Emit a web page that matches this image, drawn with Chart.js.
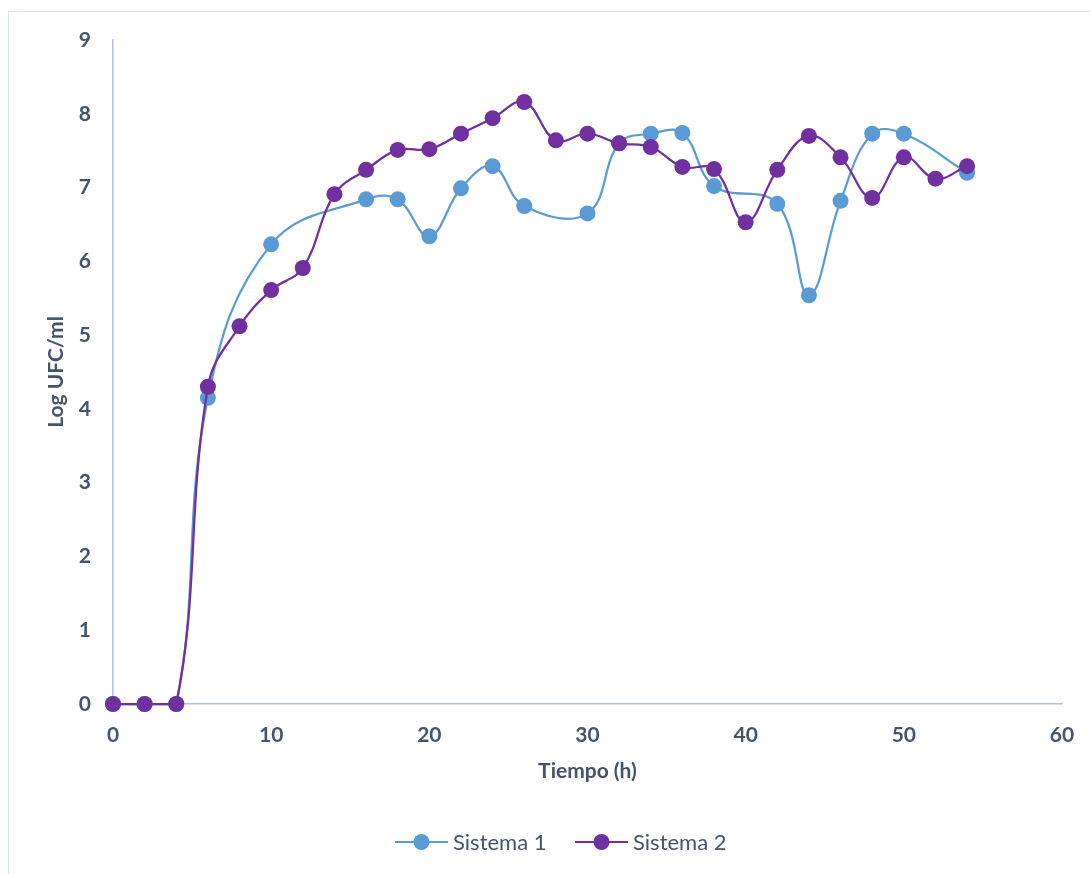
<!DOCTYPE html>
<html>
<head>
<meta charset="utf-8">
<script src="https://cdn.jsdelivr.net/npm/chart.js@4/dist/chart.umd.min.js"></script>
<style>
  body { margin: 0; background: #fff; overflow: hidden; }
  #wrap { position: relative; width: 1090px; height: 874px; }
  #frame { position: absolute; left: 8px; top: 11px; width: 1200px; height: 1000px;
           border-top: 1.5px solid #dde3ea; border-left: 1.5px solid #dde3ea; }
  canvas { position: absolute; left: 0; top: 0; }
</style>
</head>
<body>
<div id="wrap">
  <div id="frame"></div>
  <canvas id="myChart" width="1090" height="874"></canvas>
</div>
<script>
// tiempo (h) y Log UFC/ml
const horas1 = [0, 2, 4, 6, 10, 16, 18, 20, 22, 24, 26, 30, 32, 34, 36, 38, 42, 44, 46, 48, 50, 54];
const sistema1 = [0, 0, 0, 4.15, 6.23, 6.84, 6.84, 6.34, 6.99, 7.29, 6.75, 6.65, 7.60, 7.73, 7.74, 7.02, 6.78, 5.54, 6.82, 7.73, 7.73, 7.20];

const horas2 = [0, 2, 4, 6, 8, 10, 12, 14, 16, 18, 20, 22, 24, 26, 28, 30, 32, 34, 36, 38, 40, 42, 44, 46, 48, 50, 52, 54];
const sistema2 = [0, 0, 0, 4.30, 5.12, 5.61, 5.91, 6.91, 7.24, 7.51, 7.52, 7.73, 7.94, 8.16, 7.64, 7.73, 7.60, 7.55, 7.28, 7.25, 6.53, 7.24, 7.70, 7.41, 6.86, 7.41, 7.12, 7.29];

const nombres = ["Sistema 1", "Sistema 2"];
const colores = ["#5b9bd5", "#7030a0"];
const textColor = "#44546a";
const axisColor = "#b4c2d8";
const fuente = "Lato, 'Open Sans', sans-serif";

function puntos(xs, ys) {
  return xs.map((x, i) => ({ x: x, y: ys[i] }));
}

// leyenda con linea + marcador, como en Excel
const leyenda = {
  id: "leyenda",
  afterDraw(chart) {
    const ctx = chart.ctx;
    const y = 842;
    const items = [{ x: 395 }, { x: 575 }];
    ctx.save();
    ctx.font = "22px " + fuente;
    ctx.textBaseline = "middle";
    items.forEach((it, i) => {
      ctx.strokeStyle = colores[i];
      ctx.lineWidth = 2;
      ctx.beginPath();
      ctx.moveTo(it.x, y);
      ctx.lineTo(it.x + 53, y);
      ctx.stroke();
      ctx.fillStyle = colores[i];
      ctx.beginPath();
      ctx.arc(it.x + 26.5, y, 8, 0, Math.PI * 2);
      ctx.fill();
      ctx.fillStyle = textColor;
      ctx.fillText(nombres[i], it.x + 58, y + 1);
    });
    ctx.restore();
  }
};

const ctx = document.getElementById("myChart").getContext("2d");
const myChart = new Chart(ctx, {
  type: "line",
  data: {
    datasets: [
      {
        label: nombres[0],
        data: puntos(horas1, sistema1),
        borderColor: colores[0],
        backgroundColor: colores[0],
        borderWidth: 2.25,
        pointRadius: 8,
        pointHoverRadius: 8,
        pointBorderWidth: 0,
        tension: 0.4,
        clip: false,
        order: 1,
      },
      {
        label: nombres[1],
        data: puntos(horas2, sistema2),
        borderColor: colores[1],
        backgroundColor: colores[1],
        borderWidth: 2.25,
        pointRadius: 8,
        pointHoverRadius: 8,
        pointBorderWidth: 0,
        tension: 0.4,
        clip: false,
        order: 0,
      },
    ],
  },
  options: {
    responsive: false,
    animation: false,
    layout: { padding: { left: 0, right: 28, top: 40, bottom: 60 } },
    plugins: {
      legend: { display: false },
      tooltip: { enabled: false },
    },
    scales: {
      x: {
        type: "linear",
        min: 0,
        max: 60,
        ticks: {
          stepSize: 10,
          padding: 19,
          color: textColor,
          font: { family: fuente, size: 21, weight: "bold" },
        },
        grid: { display: false, drawTicks: false },
        border: { color: axisColor, width: 1.5 },
        title: {
          display: true,
          text: "Tiempo (h)",
          color: textColor,
          font: { family: fuente, size: 21, weight: "bold" },
          padding: { top: 0, bottom: 30 },
        },
        afterFit: (scale) => {
          scale.height = 110;
          scale.paddingLeft = 0;
          scale.paddingRight = 0;
        },
      },
      y: {
        min: 0,
        max: 9,
        ticks: {
          stepSize: 1,
          padding: 22,
          color: textColor,
          font: { family: fuente, size: 21, weight: "bold" },
        },
        grid: { display: false, drawTicks: false },
        border: { color: axisColor, width: 1.5 },
        title: {
          display: true,
          text: "Log UFC/ml",
          color: textColor,
          font: { family: fuente, size: 21, weight: "bold" },
          padding: { top: 44, bottom: 0 },
        },
        afterFit: (scale) => { scale.width = 113; },
      },
    },
  },
  plugins: [leyenda],
});
</script>
</body>
</html>
